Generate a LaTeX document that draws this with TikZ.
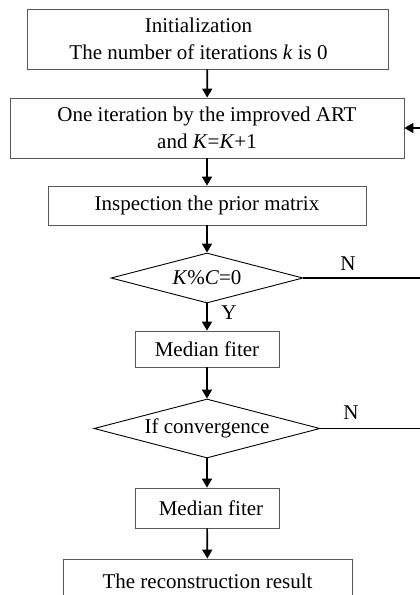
\documentclass[tikz,border=0pt]{standalone}
\usepackage{fontspec}
\setmainfont{Liberation Serif}
\usetikzlibrary{arrows.meta,shapes.geometric}
\begin{document}
\begin{tikzpicture}[x=1pt,y=-1pt,
  every node/.style={font=\fontsize{21}{27}\selectfont, text=black},
  procbox/.style={draw=black!65, line width=0.8pt, rectangle, inner sep=0pt, align=center},
  decision/.style={draw=black, line width=0.9pt, diamond, aspect=3.8, inner sep=0pt, align=center},
  flow/.style={line width=1.7pt, -{Triangle[length=9pt,width=10pt]}},
  loopline/.style={line width=1.7pt},
  lbl/.style={font=\fontsize{21}{24}\selectfont}]
\clip (0,0) rectangle (420,595);
\fill[white] (0,0) rectangle (420,595);

% process boxes
\node[procbox, minimum width=361pt, minimum height=60pt] (init) at (207.5,39) {};
\node[align=center] (inittext) at (198.5,39)
  {Initialization\\The number of iterations \textit{k} is 0};
\node[procbox, minimum width=394pt, minimum height=60pt] (art) at (207,128)
  {One iteration by the improved ART\\and \textit{K}=\textit{K}+1};
\node[procbox, minimum width=318pt, minimum height=39pt] (insp) at (207,205.5)
  {Inspection the prior matrix};
\node[decision, minimum width=192pt, minimum height=50pt] (mod) at (207,278)
  {\textit{K}\%\textit{C}=0};
\node[procbox, minimum width=144pt, minimum height=36pt] (med1) at (207,349)
  {Median fiter};
\node[decision, minimum width=226pt, minimum height=59pt] (conv) at (207,428.5)
  {If convergence};
\node[procbox, minimum width=144pt, minimum height=40pt] (med2) at (207,508)
  {\hspace{8pt}Median fiter};
\node[procbox, minimum width=289pt, minimum height=60pt] (res) at (207.5,589)
  {};
\node at (207.5,581) (restext) {The reconstruction result};

% main flow
\draw[flow] (init) -- (art);
\draw[flow] (art) -- (insp);
\draw[flow] (insp) -- (mod);
\draw[flow] (mod) -- (med1);
\draw[flow] (med1) -- (conv);
\draw[flow] (conv) -- (med2);
\draw[flow] (med2) -- (res);

% branch labels
\node[lbl] (ylab) at (229,313) {Y};
\node[lbl] (n1) at (348,264) {N};
\node[lbl] (n2) at (351,413) {N};

% return path to the ART step
\coordinate (back) at (432,128);
\draw[loopline] (mod.east) -- (mod.east -| back);
\draw[loopline] (conv.east) -- (conv.east -| back) -- (back);
\draw[flow] (back) -- (art.east);
\end{tikzpicture}
\end{document}
